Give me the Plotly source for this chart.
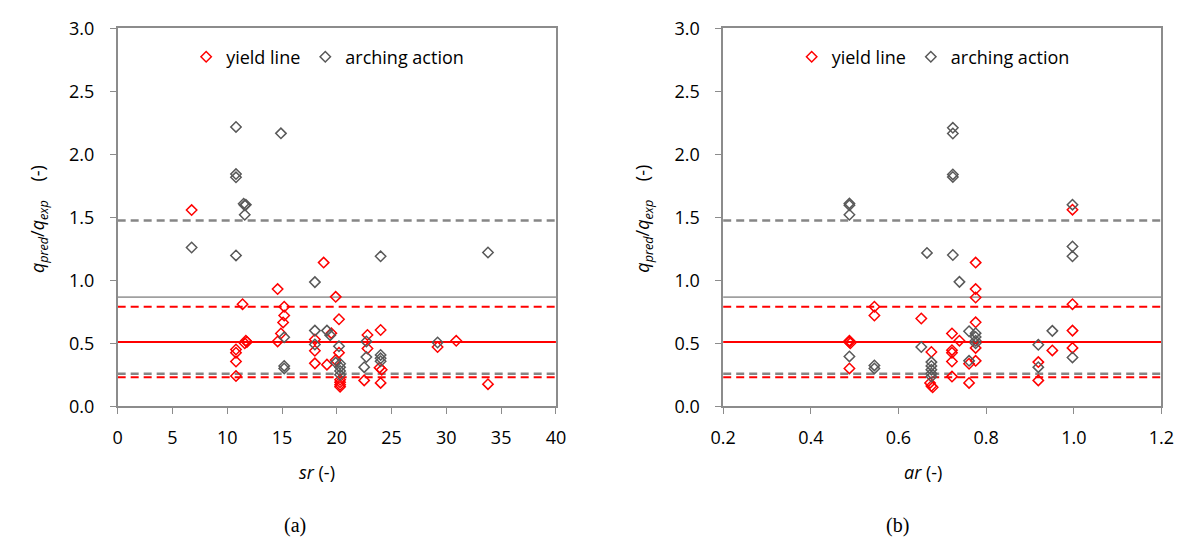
import plotly.graph_objects as go

# ---- data: q_pred/q_exp versus slenderness ratio sr ----
sr_yield = [6.75, 10.8, 10.8, 10.8, 10.8, 11.4, 11.7, 11.8, 11.6,
            14.6, 15.2, 15.2, 15.1, 14.9, 14.6, 18.8, 18.0, 18.0, 18.0,
            19.1, 19.5, 19.9, 19.9, 20.2, 20.2, 20.3, 20.3, 20.3, 20.3,
            22.8, 22.8, 22.5, 24.0, 23.9, 24.1, 24.0, 29.2, 30.9, 33.8]
q_yield_sr = [1.557, 0.45, 0.425, 0.355, 0.24, 0.81, 0.52, 0.51, 0.50,
              0.93, 0.79, 0.72, 0.665, 0.577, 0.514, 1.14, 0.53, 0.44, 0.34,
              0.33, 0.58, 0.868, 0.367, 0.69, 0.425, 0.21, 0.19, 0.17, 0.155,
              0.565, 0.458, 0.205, 0.605, 0.306, 0.29, 0.185, 0.47, 0.519, 0.175]

sr_arch = [6.75, 10.8, 10.8, 10.8, 10.8, 11.5, 11.7, 11.6, 11.6,
           14.9, 15.2, 15.2, 15.2, 18.0, 18.0, 18.0, 19.1, 19.4,
           20.2, 20.3, 20.3, 20.3, 20.3, 19.9, 22.7, 22.7, 22.5,
           24.0, 24.0, 24.0, 24.0, 29.2, 33.8]
q_arch_sr = [1.26, 2.217, 1.843, 1.817, 1.197, 1.607, 1.60, 1.595, 1.52,
             2.166, 0.547, 0.32, 0.30, 0.985, 0.60, 0.49, 0.60, 0.564,
             0.476, 0.337, 0.31, 0.28, 0.25, 0.346, 0.514, 0.39, 0.31,
             1.19, 0.407, 0.38, 0.357, 0.506, 1.22]

# ---- data: q_pred/q_exp versus aspect ratio ar ----
ar_yield = [0.488, 0.488, 0.49, 0.488, 0.545, 0.545,
            0.652, 0.675, 0.672, 0.675, 0.678,
            0.722, 0.722, 0.722, 0.722, 0.722, 0.739,
            0.761, 0.761, 0.776, 0.776, 0.776, 0.776, 0.776, 0.776,
            0.919, 0.919, 0.951, 0.997, 0.997, 0.997, 0.997]
q_yield_ar = [0.52, 0.51, 0.50, 0.30, 0.79, 0.72,
              0.696, 0.43, 0.185, 0.16, 0.15,
              0.577, 0.445, 0.425, 0.355, 0.235, 0.52,
              0.337, 0.185, 1.14, 0.93, 0.863, 0.666, 0.463, 0.36,
              0.35, 0.205, 0.443, 1.56, 0.81, 0.60, 0.463]

ar_arch = [0.488, 0.488, 0.488, 0.488, 0.545, 0.545,
           0.652, 0.665, 0.675, 0.675, 0.675, 0.675, 0.675,
           0.724, 0.724, 0.724, 0.724, 0.724, 0.739, 0.761, 0.761,
           0.776, 0.776, 0.776, 0.776, 0.919, 0.919, 0.951,
           0.997, 0.997, 0.997, 0.997]
q_arch_ar = [1.61, 1.595, 1.52, 0.395, 0.324, 0.30,
             0.47, 1.217, 0.35, 0.32, 0.29, 0.26, 0.235,
             2.21, 2.165, 1.84, 1.82, 1.20, 0.987, 0.595, 0.36,
             0.58, 0.55, 0.52, 0.50, 0.488, 0.31, 0.598,
             1.60, 1.268, 1.19, 0.387]

# reference levels: mean and mean +/- 2 std for each model
yield_mean = 0.51
yield_band = [0.79, 0.23]
arch_mean = 0.866
arch_band = [1.475, 0.258]

RED = "#FF0000"
GREY = "#595959"
FONT = "Open Sans"

fig = go.Figure()

panels = [
    ("x", "y", sr_yield, q_yield_sr, sr_arch, q_arch_sr, "legend"),
    ("x2", "y2", ar_yield, q_yield_ar, ar_arch, q_arch_ar, "legend2"),
]
for xa, ya, xy, qy, xa_, qa, leg in panels:
    fig.add_trace(go.Scatter(
        x=xy, y=qy, mode="markers", name="yield line", xaxis=xa, yaxis=ya,
        legend=leg,
        marker=dict(symbol="diamond-open", size=8, color=RED,
                    line=dict(width=1.5, color=RED))))
    fig.add_trace(go.Scatter(
        x=xa_, y=qa, mode="markers", name="arching action", xaxis=xa, yaxis=ya,
        legend=leg,
        marker=dict(symbol="diamond-open", size=8, color=GREY,
                    line=dict(width=1.5, color=GREY))))

    # horizontal statistics lines across the full plot width
    def hline(val, color, width, dash):
        fig.add_shape(type="line", xref=f"{xa} domain", yref=ya,
                      x0=0, x1=1, y0=val, y1=val, layer="below",
                      line=dict(color=color, width=width, dash=dash))

    hline(arch_mean, "#A0A0A0", 1.8, "solid")
    for v in arch_band:
        hline(v, "#868686", 2.5, "8px,5px")
    hline(yield_mean, RED, 2, "solid")
    for v in yield_band:
        hline(v, RED, 2, "8px,5px")

axis_common = dict(showline=True, linecolor="#8C8C8C", linewidth=1.5,
                   mirror=True, ticks="outside", ticklen=6, tickwidth=1.2,
                   tickcolor="#8C8C8C", showgrid=False, zeroline=False,
                   tickfont=dict(family=FONT, size=18, color="#000000"))
x_axis = dict(ticklabelstandoff=8, **axis_common)
y_axis = dict(ticklabelstandoff=12, **axis_common)

left_dom = [107 / 1195, 555 / 1195]
right_dom = [726 / 1195, 1174 / 1195]
y_dom = [1 - 411 / 554, 1 - 16 / 554]

legend_style = dict(orientation="h", xanchor="left", y=1 - 46 / 554,
                    yanchor="middle", bgcolor="rgba(0,0,0,0)",
                    font=dict(family=FONT, size=18, color="#000000"),
                    itemwidth=30)

fig.update_layout(
    width=1195, height=554, autosize=False,
    margin=dict(l=0, r=0, t=0, b=0),
    paper_bgcolor="white", plot_bgcolor="white",
    showlegend=True,
    xaxis=dict(domain=left_dom, range=[0, 40], dtick=5, anchor="y", **x_axis),
    yaxis=dict(domain=y_dom, range=[0, 3], dtick=0.5, tickformat=".1f",
               anchor="x", **y_axis),
    xaxis2=dict(domain=right_dom, range=[0.2, 1.2], dtick=0.2, tickformat=".1f",
                anchor="y2", **x_axis),
    yaxis2=dict(domain=y_dom, range=[0, 3], dtick=0.5, tickformat=".1f",
                anchor="x2", **y_axis),
    legend=dict(x=177 / 1195, **legend_style),
    legend2=dict(x=796 / 1195, **legend_style),
)

ytitle = ("<i>q</i><sub><i>pred</i></sub>/<i>q</i><sub><i>exp</i></sub>"
          "&nbsp;&nbsp;&nbsp;&nbsp;(-)")
annos = [
    dict(x=26 / 1195, y=1 - 215 / 554, text=ytitle, textangle=-90),
    dict(x=645 / 1195, y=1 - 215 / 554, text=ytitle, textangle=-90),
    dict(x=311 / 1195, y=1 - 480 / 554, text="<i>sr</i> (-)"),
    dict(x=930 / 1195, y=1 - 480 / 554, text="<i>ar</i> (-)"),
]
for a in annos:
    fig.add_annotation(xref="paper", yref="paper", showarrow=False,
                       xanchor="center", yanchor="middle",
                       font=dict(family=FONT, size=18, color="#000000"), **a)

for txt, xc in [("(a)", 288), ("(b)", 904)]:
    fig.add_annotation(xref="paper", yref="paper", showarrow=False,
                       x=xc / 1195, y=1 - 536 / 554, text=txt,
                       xanchor="center", yanchor="middle",
                       font=dict(family="Liberation Serif", size=20,
                                 color="#000000"))

fig.write_html("out.html")
